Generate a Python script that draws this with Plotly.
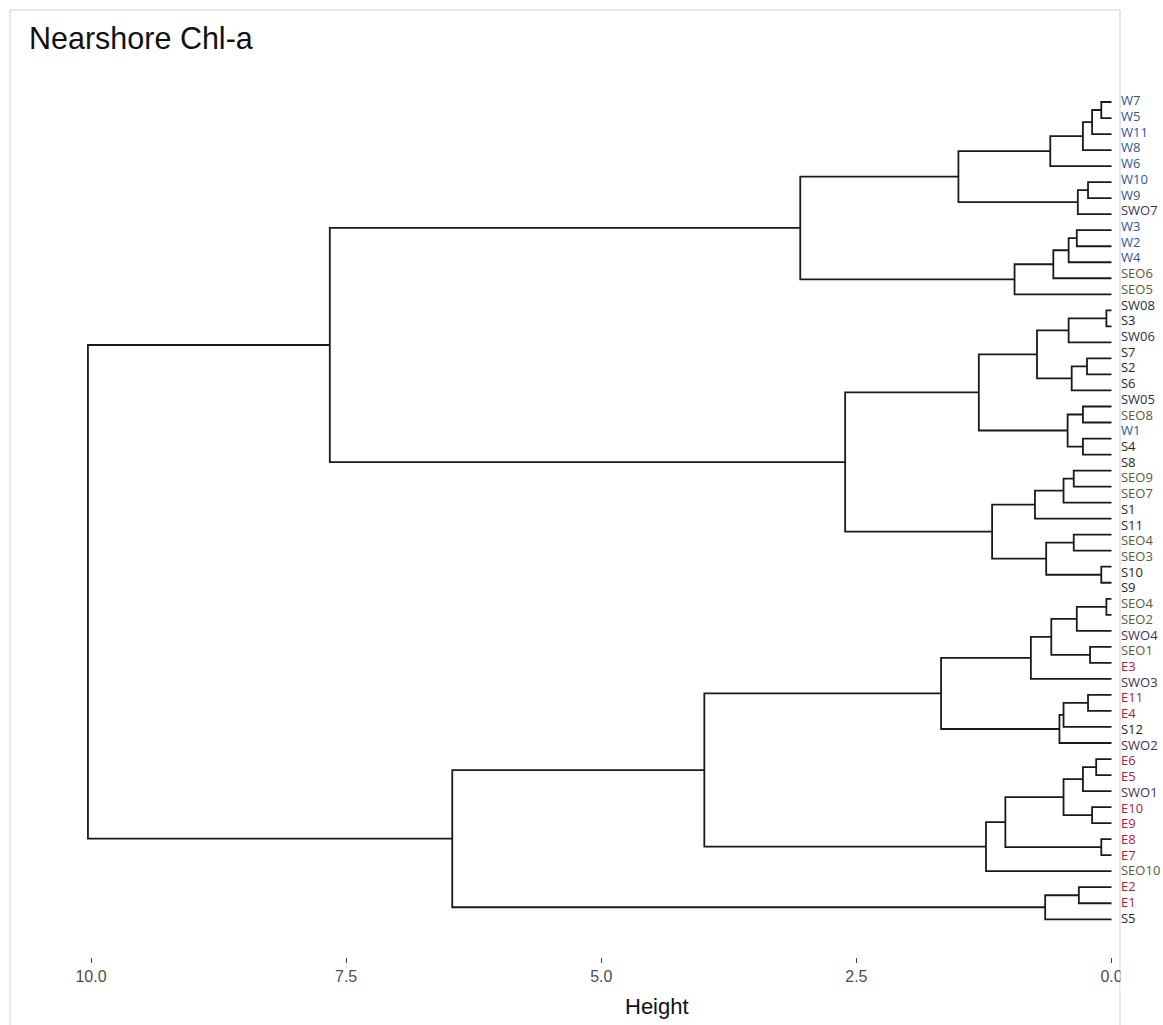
import plotly.graph_objects as go

# ---------------------------------------------------------------- data
title_text = "Nearshore Chl-a"
axis_title = "Height"

# Site labels listed top to bottom in the label column
leaf_labels = [
    "W7", "W5", "W11", "W8", "W6", "W10", "W9", "SWO7", "W3", "W2", "W4",
    "SEO6", "SEO5", "SW08", "S3", "SW06", "S7", "S2", "S6", "SW05", "SEO8",
    "W1", "S4", "S8", "SEO9", "SEO7", "S1", "S11", "SEO4", "SEO3", "S10",
    "S9", "SEO4", "SEO2", "SWO4", "SEO1", "E3", "SWO3", "E11", "E4", "S12",
    "SWO2", "E6", "E5", "SWO1", "E10", "E9", "E8", "E7", "SEO10", "E2",
    "E1", "S5",
]

# Number of terminal branches in the tree
n_leaves = 52

# hclust-style merge table: negative = leaf number (1-based, top to bottom),
# positive = row of an earlier merge (1-based)
merge_left = [
    -1, 1, 2, 3, -6, 5, 4, -9, 8, 9, 10, 7,
    -14, 13, -17, 15, 14, -20, -22, 18, 17, -24, 22, 23,
    -28, -30, 25, 24, 21, 12, -32, 31, -35, 32, 34, -38,
    36, 37, 35, -42, 40, -45, 41, -47, 43, 45, 39, -50,
    48, 47, 30,
]
merge_right = [
    -2, -3, -4, -5, -7, -8, 6, -10, -11, -12, -13, 11,
    -15, -16, -18, -19, 16, -21, -23, 19, 20, -25, -26, -27,
    -29, -31, 26, 27, 28, 29, -33, -34, -36, 33, -37, -39,
    -40, -41, 38, -43, -44, -46, 42, -48, 44, -49, 46, -51,
    -52, 49, 50,
]
merge_height = [
    0.10, 0.19, 0.28, 0.60, 0.23, 0.33, 1.50, 0.34, 0.42, 0.57, 0.95, 3.05,
    0.05, 0.42, 0.24, 0.39, 0.73, 0.28, 0.28, 0.43, 1.30, 0.37, 0.47, 0.75,
    0.37, 0.10, 0.64, 1.17, 2.61, 7.66, 0.05, 0.34, 0.21, 0.59, 0.79, 0.23,
    0.47, 0.51, 1.67, 0.15, 0.28, 0.19, 0.47, 0.10, 1.04, 1.23, 3.99, 0.32,
    0.65, 6.46, 10.03,
]

tick_values = [10.0, 7.5, 5.0, 2.5, 0.0]
tick_text = ["10.0", "7.5", "5.0", "2.5", "0.0"]

# ---------------------------------------------------------------- styling
group_colors = {
    "SEO": "#5a5a3c",
    "SWO": "#3f3151",
    "SW": "#2c2c44",
    "W": "#2f5496",
    "E": "#b0203a",
    "S": "#262626",
}


def label_color(name):
    prefix = name.rstrip("0123456789")
    return group_colors.get(prefix, "#262626")


# ---------------------------------------------------------------- tree geometry
merge_y = []


def node_pos(ref):
    if ref < 0:
        return 0.0, float(-ref - 1)
    return merge_height[ref - 1], merge_y[ref - 1]


seg_x, seg_y = [], []
for a, b, h in zip(merge_left, merge_right, merge_height):
    ha, ya = node_pos(a)
    hb, yb = node_pos(b)
    seg_x += [ha, h, h, hb, None]
    seg_y += [ya, ya, yb, yb, None]
    merge_y.append((ya + yb) / 2.0)

# label column is spread evenly over the span of the branch tips
n_lab = len(leaf_labels)
label_y = [k * (n_leaves - 1) / (n_lab - 1) for k in range(n_lab)]
label_x = [-0.093] * n_lab

W, H = 1163, 1025
PLOT_BOTTOM = 957  # pixel row of the height axis

fig = go.Figure()
fig.add_trace(go.Scatter(
    x=seg_x, y=seg_y, mode="lines",
    line=dict(color="#1a1a1a", width=1.8),
    hoverinfo="skip", showlegend=False,
))
fig.add_trace(go.Scatter(
    x=label_x, y=label_y, mode="text", text=leaf_labels,
    textposition="middle right",
    textfont=dict(family="Open Sans", size=13,
                  color=[label_color(s) for s in leaf_labels]),
    hoverinfo="skip", showlegend=False, cliponaxis=False,
))

px_per_unit = 102.05
x_zero_px = 1111.5
x_left = x_zero_px / px_per_unit
x_right = (x_zero_px - W) / px_per_unit

y_top_px, pitch = 102.0, 16.025
y_min = (0 - y_top_px) / pitch
y_max = (PLOT_BOTTOM - y_top_px) / pitch

fig.update_layout(
    width=W, height=H,
    margin=dict(l=0, r=0, t=0, b=H - PLOT_BOTTOM),
    paper_bgcolor="white", plot_bgcolor="white",
    xaxis=dict(
        range=[x_left, x_right], showgrid=False, zeroline=False,
        showline=False, ticks="outside", ticklen=5, tickwidth=1,
        tickcolor="#444444", tickvals=tick_values, ticktext=tick_text,
        tickfont=dict(family="Liberation Sans Narrow, Liberation Sans",
                      size=16, color="#4d4d4d"),
    ),
    yaxis=dict(range=[y_max, y_min], visible=False),
    shapes=[
        # frame around the panel
        dict(type="rect", xref="paper", yref="paper",
             x0=10 / W, x1=1120 / W,
             y0=1 - 1035 / PLOT_BOTTOM, y1=1 - 10 / PLOT_BOTTOM,
             line=dict(color="#cfcfcf", width=1), layer="below"),
        # the frame's right edge trims the last tick label
        dict(type="rect", xref="paper", yref="paper",
             x0=1120.5 / W, x1=1.0,
             y0=1 - 992 / PLOT_BOTTOM, y1=1 - 963 / PLOT_BOTTOM,
             line=dict(width=0), fillcolor="white", layer="above"),
    ],
    annotations=[
        dict(text=title_text, xref="paper", yref="paper",
             x=27 / W, y=1 - 38 / PLOT_BOTTOM, xanchor="left",
             yanchor="middle", showarrow=False,
             font=dict(family="Liberation Sans", size=30.5, color="#111111")),
        dict(text=axis_title, xref="paper", yref="paper",
             x=657 / W, y=1 - 1006 / PLOT_BOTTOM, xanchor="center",
             yanchor="middle", showarrow=False,
             font=dict(family="Liberation Sans Narrow, Liberation Sans",
                       size=22, color="#111111")),
    ],
)

fig.write_html("out.html")
